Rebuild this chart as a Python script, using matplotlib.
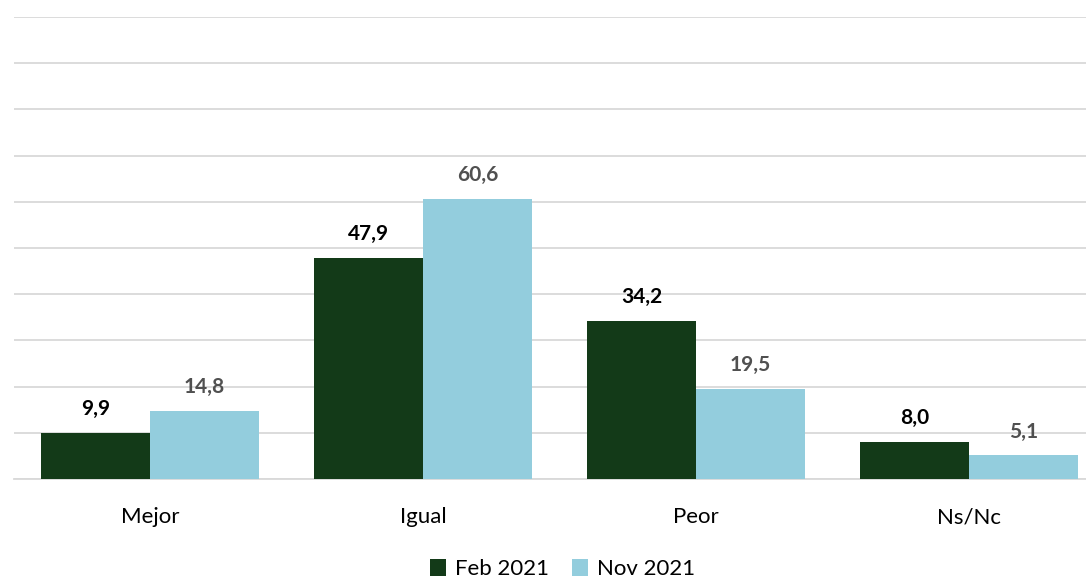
import numpy as np
import matplotlib.pyplot as plt

categories = ['Mejor', 'Igual', 'Peor', 'Ns/Nc']
feb_2021 = [9.9, 47.9, 34.2, 8.0]
nov_2021 = [14.8, 60.6, 19.5, 5.1]
series_names = ['Feb 2021', 'Nov 2021']

plt.rcParams['font.family'] = ['Lato', 'DejaVu Sans']

W, H = 1086, 579
fig = plt.figure(figsize=(W / 100, H / 100), dpi=100)
# the plot area runs past the right edge (cropped in the original)
ax = fig.add_axes([13.5 / W, (H - 479) / H, 1092 / W, 462 / H])

x = np.arange(len(categories))
bw = 0.4
b1 = ax.bar(x - bw / 2, feb_2021, bw, color='#133A18', label=series_names[0], zorder=3)
b2 = ax.bar(x + bw / 2, nov_2021, bw, color='#93CDDD', label=series_names[1], zorder=3)

def fmt(v):
    return f'{v:.1f}'.replace('.', ',')

for bars, vals, col in [(b1, feb_2021, 'black'), (b2, nov_2021, '#505050')]:
    for rect, v in zip(bars, vals):
        ax.annotate(fmt(v), (rect.get_x() + rect.get_width() / 2, v),
                    xytext=(0, 10), textcoords='offset points',
                    ha='center', va='bottom', fontsize=15, fontweight='bold', color=col)

ax.set_xlim(-0.5, len(categories) - 0.5)
ax.set_ylim(0, 100)
ax.set_yticks(np.arange(0, 101, 10))
ax.yaxis.grid(True, color='#D9D9D9', linewidth=1.3, zorder=0)
ax.tick_params(axis='y', left=False, labelleft=False)
ax.tick_params(axis='x', bottom=False, pad=17)
ax.set_xticks(x)
ax.set_xticklabels(categories, fontsize=16)
for s in ['top', 'right', 'left']:
    ax.spines[s].set_visible(False)
ax.spines['bottom'].set_color('#D9D9D9')
ax.spines['bottom'].set_linewidth(1.3)

fig.legend(handles=[b1, b2], loc='lower center', bbox_to_anchor=(0.518, -0.035), ncol=2,
           frameon=False, fontsize=16, handlelength=0.75, handleheight=0.75,
           handletextpad=0.4, columnspacing=1.0)

fig.savefig('out.png', dpi=100)
